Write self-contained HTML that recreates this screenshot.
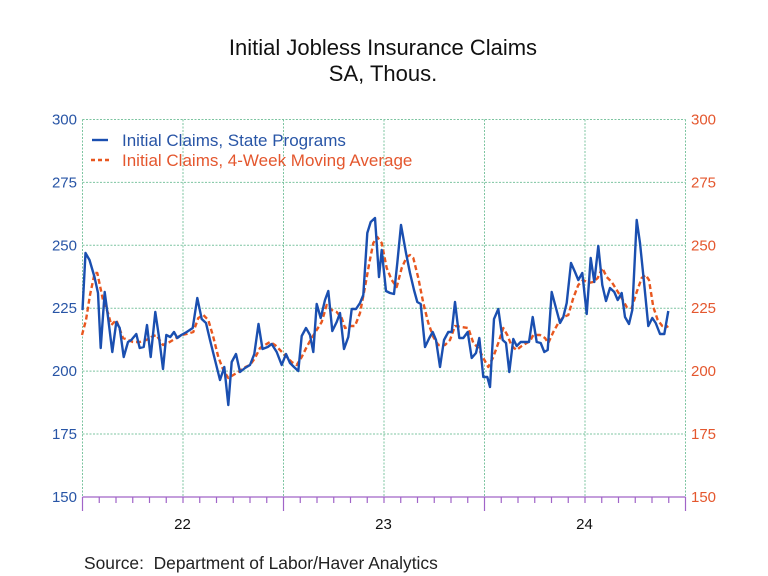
<!DOCTYPE html>
<html>
<head>
<meta charset="utf-8">
<style>
  html, body { margin: 0; padding: 0; background: #ffffff; }
  svg { display: block; }
  text { font-family: "Liberation Sans", Arial, sans-serif; }
</style>
</head>
<body>
<svg width="768" height="576" viewBox="0 0 768 576" xmlns="http://www.w3.org/2000/svg">
  <rect width="768" height="576" fill="#ffffff"/>

  <!-- Title -->
  <text x="383" y="55" font-size="22" text-anchor="middle" fill="#111">Initial Jobless Insurance Claims</text>
  <text x="383" y="81" font-size="22" text-anchor="middle" fill="#111">SA, Thous.</text>

  <!-- Gridlines -->
  <g stroke="#7cc4a0" stroke-width="1" stroke-dasharray="2,1.5" fill="none">
    <line x1="82.5" y1="119.5" x2="685.5" y2="119.5"/>
    <line x1="82.5" y1="182.4" x2="685.5" y2="182.4"/>
    <line x1="82.5" y1="245.3" x2="685.5" y2="245.3"/>
    <line x1="82.5" y1="308.2" x2="685.5" y2="308.2"/>
    <line x1="82.5" y1="371.1" x2="685.5" y2="371.1"/>
    <line x1="82.5" y1="434" x2="685.5" y2="434"/>
    <line x1="82.5" y1="119.5" x2="82.5" y2="497"/>
    <line x1="183" y1="119.5" x2="183" y2="497"/>
    <line x1="283.5" y1="119.5" x2="283.5" y2="497"/>
    <line x1="384" y1="119.5" x2="384" y2="497"/>
    <line x1="484.5" y1="119.5" x2="484.5" y2="497"/>
    <line x1="585" y1="119.5" x2="585" y2="497"/>
    <line x1="685.5" y1="119.5" x2="685.5" y2="497"/>
  </g>

  <!-- X axis -->
  <g stroke="#a064c8" stroke-width="1.2">
    <line x1="82.5" y1="497" x2="685.5" y2="497"/>
    <line x1="82.5" y1="497" x2="82.5" y2="511"/>
    <line x1="283.5" y1="497" x2="283.5" y2="511"/>
    <line x1="484.5" y1="497" x2="484.5" y2="511"/>
    <line x1="685.5" y1="497" x2="685.5" y2="511"/>
    <!-- minor monthly ticks -->
    <line x1="99.25" y1="497" x2="99.25" y2="503"/>
    <line x1="116" y1="497" x2="116" y2="503"/>
    <line x1="132.75" y1="497" x2="132.75" y2="503"/>
    <line x1="149.5" y1="497" x2="149.5" y2="503"/>
    <line x1="166.25" y1="497" x2="166.25" y2="503"/>
    <line x1="183" y1="497" x2="183" y2="503"/>
    <line x1="199.75" y1="497" x2="199.75" y2="503"/>
    <line x1="216.5" y1="497" x2="216.5" y2="503"/>
    <line x1="233.25" y1="497" x2="233.25" y2="503"/>
    <line x1="250" y1="497" x2="250" y2="503"/>
    <line x1="266.75" y1="497" x2="266.75" y2="503"/>
    <line x1="300.25" y1="497" x2="300.25" y2="503"/>
    <line x1="317" y1="497" x2="317" y2="503"/>
    <line x1="333.75" y1="497" x2="333.75" y2="503"/>
    <line x1="350.5" y1="497" x2="350.5" y2="503"/>
    <line x1="367.25" y1="497" x2="367.25" y2="503"/>
    <line x1="384" y1="497" x2="384" y2="503"/>
    <line x1="400.75" y1="497" x2="400.75" y2="503"/>
    <line x1="417.5" y1="497" x2="417.5" y2="503"/>
    <line x1="434.25" y1="497" x2="434.25" y2="503"/>
    <line x1="451" y1="497" x2="451" y2="503"/>
    <line x1="467.75" y1="497" x2="467.75" y2="503"/>
    <line x1="501.25" y1="497" x2="501.25" y2="503"/>
    <line x1="518" y1="497" x2="518" y2="503"/>
    <line x1="534.75" y1="497" x2="534.75" y2="503"/>
    <line x1="551.5" y1="497" x2="551.5" y2="503"/>
    <line x1="568.25" y1="497" x2="568.25" y2="503"/>
    <line x1="585" y1="497" x2="585" y2="503"/>
    <line x1="601.75" y1="497" x2="601.75" y2="503"/>
    <line x1="618.5" y1="497" x2="618.5" y2="503"/>
    <line x1="635.25" y1="497" x2="635.25" y2="503"/>
    <line x1="652" y1="497" x2="652" y2="503"/>
    <line x1="668.75" y1="497" x2="668.75" y2="503"/>
  </g>

  <!-- X labels -->
  <g font-size="15" fill="#111" text-anchor="middle">
    <text x="182.5" y="529">22</text>
    <text x="383.5" y="529">23</text>
    <text x="584.5" y="529">24</text>
  </g>

  <!-- Left axis labels -->
  <g font-size="15" fill="#2855a6" text-anchor="end">
    <text x="77" y="124.5">300</text>
    <text x="77" y="187.4">275</text>
    <text x="77" y="250.3">250</text>
    <text x="77" y="313.2">225</text>
    <text x="77" y="376.1">200</text>
    <text x="77" y="439">175</text>
    <text x="77" y="502">150</text>
  </g>

  <!-- Right axis labels -->
  <g font-size="15" fill="#e4572e" text-anchor="start">
    <text x="691" y="124.5">300</text>
    <text x="691" y="187.4">275</text>
    <text x="691" y="250.3">250</text>
    <text x="691" y="313.2">225</text>
    <text x="691" y="376.1">200</text>
    <text x="691" y="439">175</text>
    <text x="691" y="502">150</text>
  </g>

  <!-- 4-week moving average (orange dashed) -->
  <polyline fill="none" stroke="#e8571f" stroke-width="2.4" stroke-dasharray="5,3" stroke-linejoin="round"
    points="82,335 86,320 90,295 94.7,273 97.3,273 103,300 108,313 111.3,325 116.3,320 123,338 128,340 133,342 139.7,342 146.3,340 151.3,337 156.3,335 163,345 169.7,342 176.3,338 181.3,335 186.7,334 193.3,332 198.3,318 203.3,315 208.3,320 213.3,337 218.3,357 223.3,370 228.3,378 233.3,375 238.3,372 243.3,368 250,365 255,358 260,348 265,345 270,342 275,345 280,350 286.7,357 291.7,362 296.7,365 301.7,357 306.7,347 311.7,338 316.7,330 321.7,322 326.7,305 331.7,310 336.7,312 341.7,318 345,328 350,326 355,326 360,313 365,287 369.3,263 373.3,243 377.3,237 381.7,243 386.7,268 391.7,280 396.7,287 401.7,268 406.7,257 410,255 413.3,258 418.3,278 423.3,303 428.3,323 433.3,337 438.3,345 445,345 450,340 455,326 461.7,327 468.3,328 473.3,343 478.3,348 483.3,358 488.3,367 493.3,357 498.3,343 503.3,328 507.3,335 511.7,346 516.7,350 521.7,346 526.7,343 530,341 533.3,335 540,335 545,338 548.3,343 553.3,332 558.3,323 563.3,317 568.3,315 573.3,298 578.3,285 583.3,280 588.3,283 593.3,282 597.7,278 602.3,268 606.7,277 611.7,282 616.7,290 621.7,298 626.7,307 631.7,308 636.7,292 641.7,278 645.7,275 649,280 653.3,307 657.7,320 662.3,326 666.7,327 668.3,326"/>

  <!-- Initial claims (blue solid) -->
  <polyline fill="none" stroke="#1a4fb0" stroke-width="2.4" stroke-linejoin="round"
    points="82.5,310 85.5,253 89.5,260 94.5,277 98,293 100.7,348 104.7,292 108,317 112.3,352 116.3,322 119.7,328 123.7,357 128,342 131.3,340 136.3,334 139.7,348 143.7,347 147,325 150.7,357 155.3,312 159,337 163,369 166.3,335 170.3,337 174,332 177.3,338 181.3,335 186.7,332 192.7,328 197.3,298 201.7,319 206,323 210,340 215,360 220,380 224.3,367 228.3,405 231.7,362 236,354 240,372 245,368 250,365 254.3,354 258.5,324 262.5,349 267.7,347 271.7,344 276.7,352 281.7,365 286,354 290,363 294,367 298.3,371 301.7,336 306,328 310,335 313.3,352 316.7,304 320.7,318 325,300 328.3,291 332.3,331 336.7,322 340,313 344,349 348.3,337 351.7,309 356,309 360,303 363.3,295 367.3,233 370.7,222 375,218 379,277 381.7,250 386,291 390,293 394,294 397.3,263 401,225 406,253 410,273 414,290 417.3,302 420.7,304 425,347 429.3,338 432.7,332 436,340 440,367 444,340 448.3,332 451.7,332 455,302 459.3,338 463.3,338 467.7,332 471.7,358 476,353 479.3,338 483.3,377 487.3,377 490,387 494,319 498.3,309 502.7,340 506,343 509.3,372 513.3,339 516.7,346 520.7,342 524.5,342 529,342 532.7,317 536.7,342 540.7,343 544.3,352 547.7,350 551.7,292 555.7,307 560,323 563.3,317 566.7,303 571,263 575,272 578.3,280 582.3,273 586.7,314 590.7,258 594.3,282 598.3,246 602.3,285 606,301 610,288 614.3,292 617.7,300 621.7,293 625,317 629,324 632.3,310 636.7,220 640,243 644.3,285 648.3,326 652.3,318 655.7,323 660,334 664.3,334 668.3,311"/>

  <!-- Legend -->
  <line x1="92" y1="140" x2="108" y2="140" stroke="#1a4fb0" stroke-width="2.4"/>
  <text x="122" y="146" font-size="17" fill="#2855a6">Initial Claims, State Programs</text>
  <line x1="91" y1="160" x2="109" y2="160" stroke="#e8571f" stroke-width="2.4" stroke-dasharray="4,3"/>
  <text x="122" y="166" font-size="17" fill="#e4572e">Initial Claims, 4-Week Moving Average</text>

  <!-- Source -->
  <text x="84" y="569" font-size="17.4" fill="#222" xml:space="preserve">Source:  Department of Labor/Haver Analytics</text>
</svg>
</body>
</html>
